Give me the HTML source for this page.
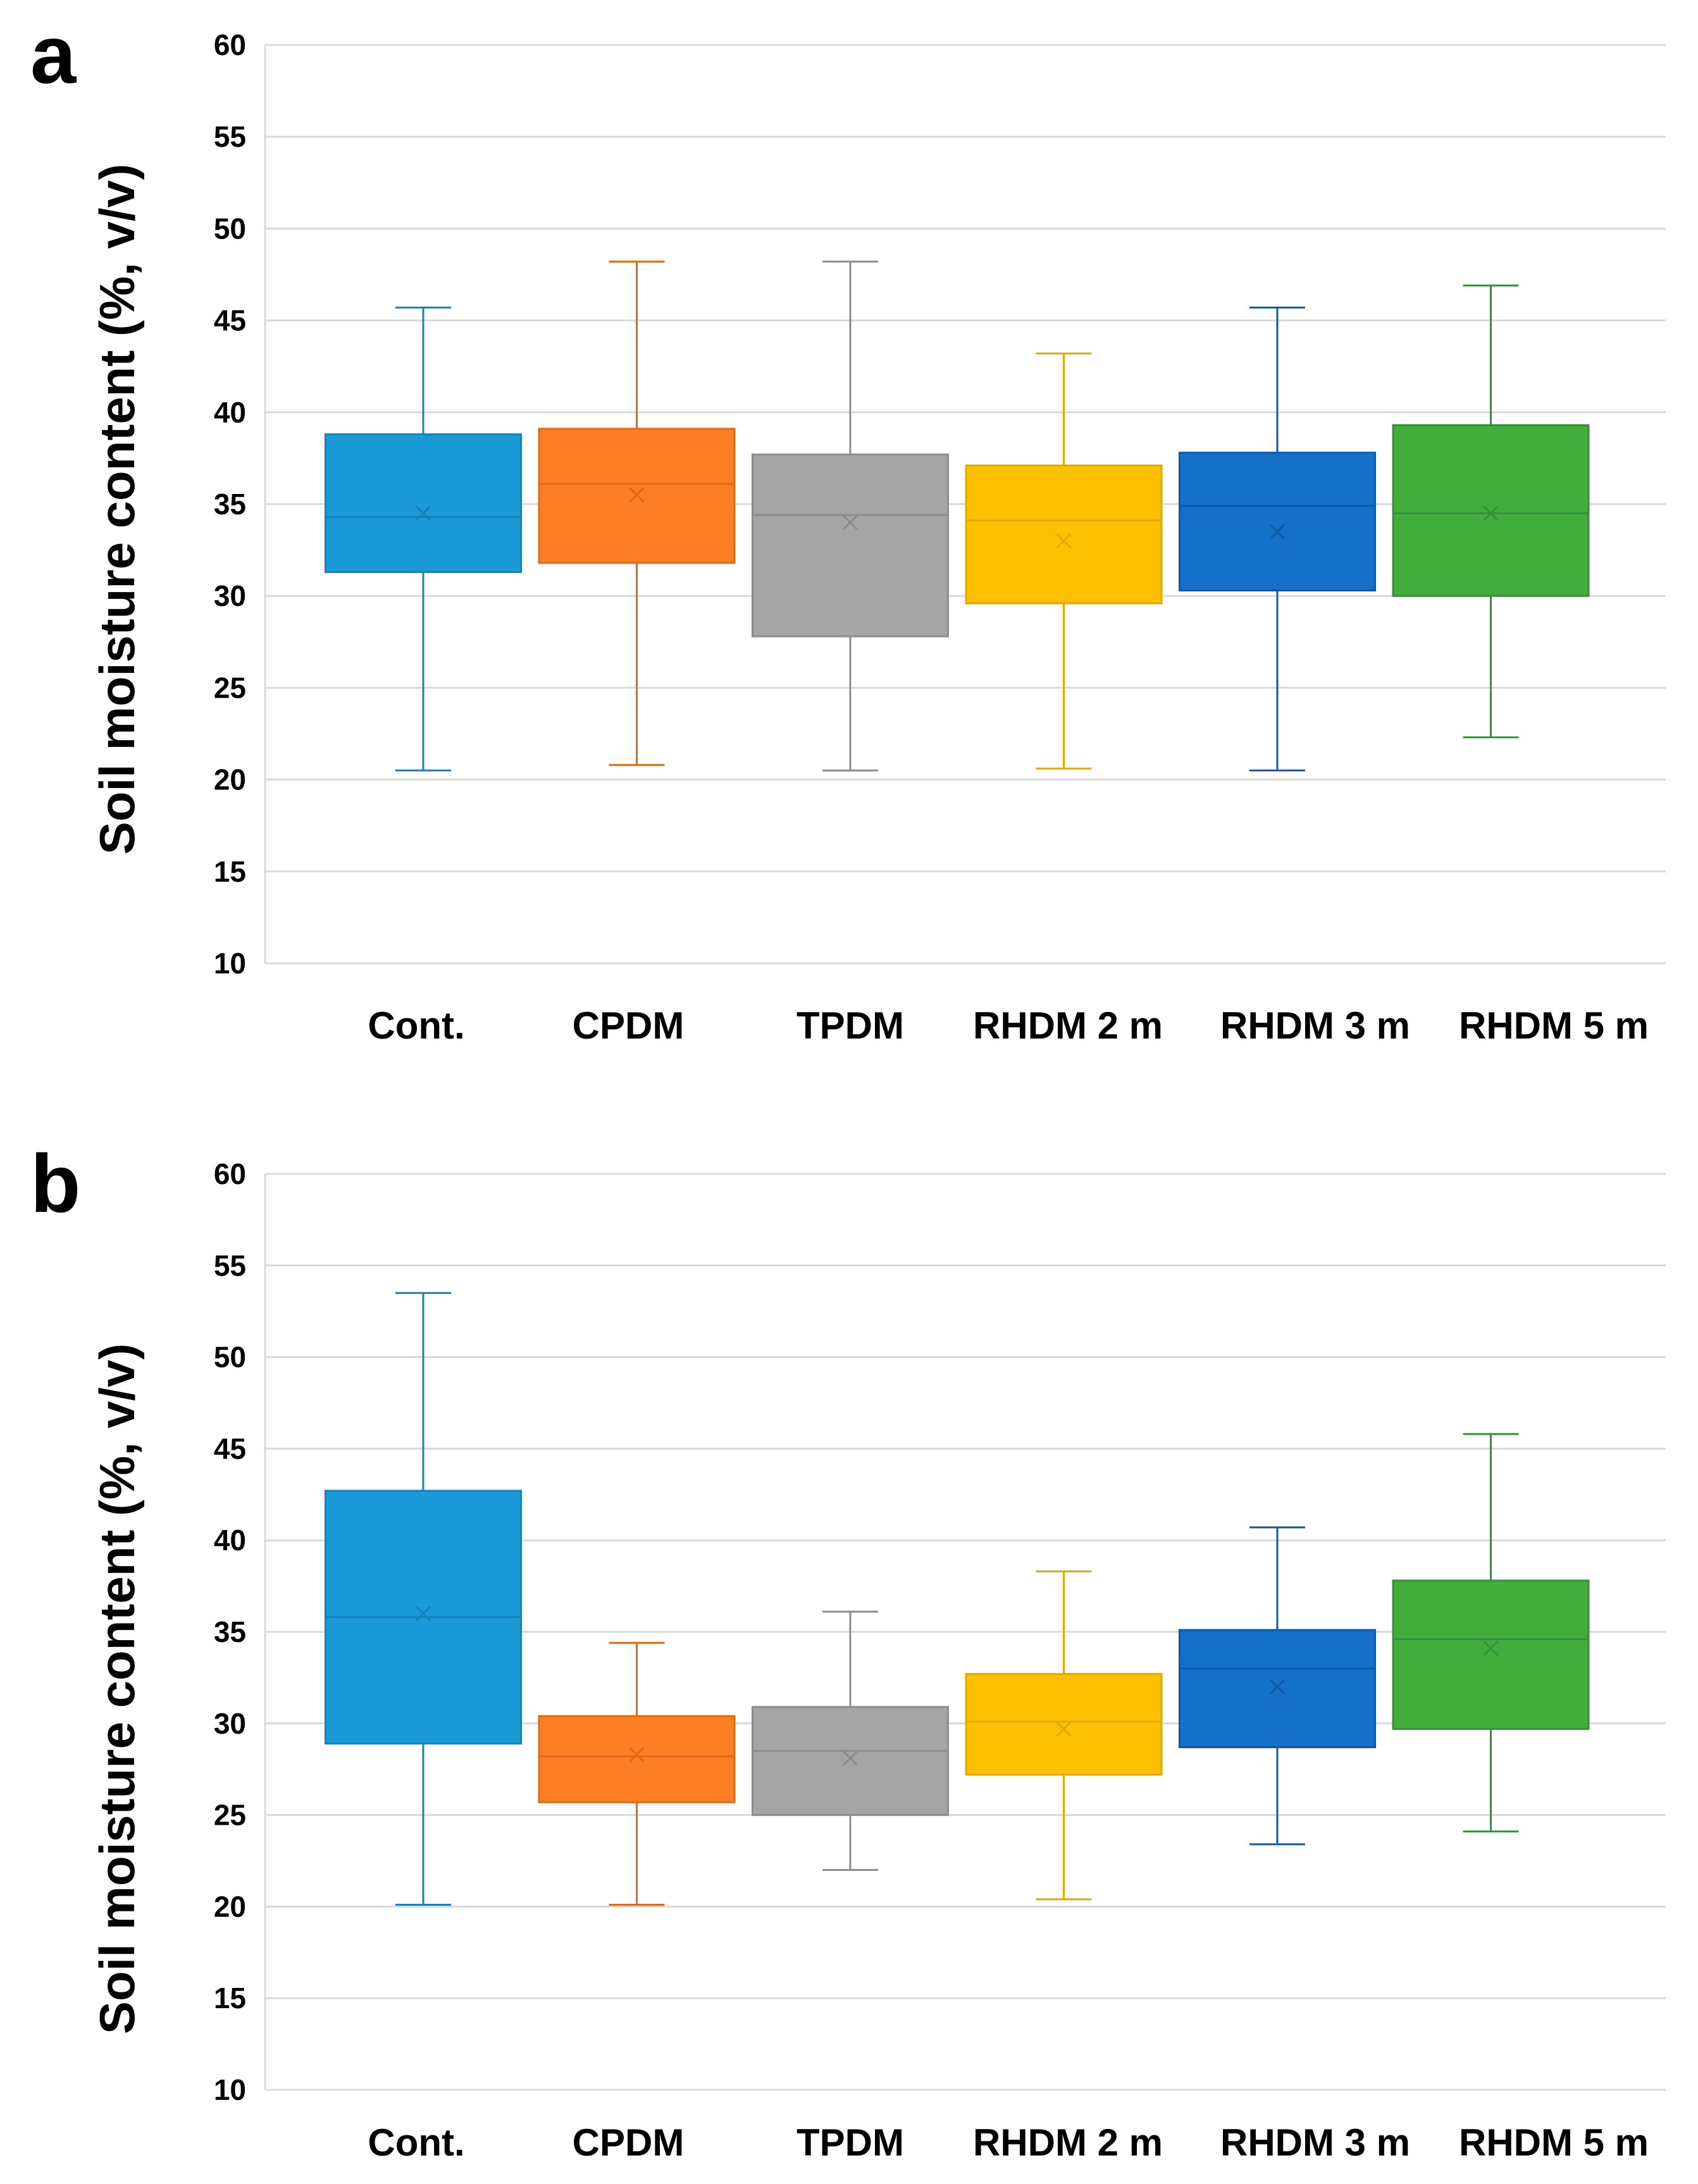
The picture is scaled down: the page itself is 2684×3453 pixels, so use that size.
<!DOCTYPE html>
<html><head><meta charset="utf-8"><style>
html,body{margin:0;padding:0;background:#fff;}
svg{display:block;font-family:"Liberation Sans",Arial,sans-serif;}
</style></head><body>
<svg id="fig" width="2684" height="3453" viewBox="0 0 2684 3453" xmlns="http://www.w3.org/2000/svg"></svg>
<script>
const categories = ["Cont.","CPDM","TPDM","RHDM 2 m","RHDM 3 m","RHDM 5 m"];
const colors = ["#1a9bd7","#fd7e23","#a5a5a5","#ffc000","#1470c8","#43ad3c"];
const strokes = ["#1583bb","#e06a15","#8c8c8c","#e0a800","#0f5aa6","#36923a"];
const yTicks = [10,15,20,25,30,35,40,45,50,55,60];
const aMin = [20.5,20.8,20.5,20.6,20.5,22.3];
const aQ1 = [31.3,31.8,27.8,29.6,30.3,30.0];
const aMed = [34.3,36.1,34.4,34.1,34.9,34.5];
const aQ3 = [38.8,39.1,37.7,37.1,37.8,39.3];
const aMax = [45.7,48.2,48.2,43.2,45.7,46.9];
const aMean = [34.5,35.5,34.0,33.0,33.5,34.5];
const bMin = [20.1,20.1,22.0,20.4,23.4,24.1];
const bQ1 = [28.9,25.7,25.0,27.2,28.7,29.7];
const bMed = [35.8,28.2,28.5,30.1,33.0,34.6];
const bQ3 = [42.7,30.4,30.9,32.7,35.1,37.8];
const bMax = [53.5,34.4,36.1,38.3,40.7,45.8];
const bMean = [36.0,28.3,28.1,29.7,32.0,34.1];

const NS="http://www.w3.org/2000/svg";
const svg=document.getElementById('fig');
function el(tag,attrs,parent){const e=document.createElementNS(NS,tag);for(const k in attrs)e.setAttribute(k,attrs[k]);(parent||svg).appendChild(e);return e;}
const labelX=[658,993,1344,1688,2079,2456];

function panel(letter,top,bottom,labelY,titleY,mins,q1s,meds,q3s,maxs,means){
  const left=419,right=2633;
  const g=el('g',{});
  
  
  const y=v=>bottom-(v-10)*(bottom-top)/50;
  const xc=i=>669+i*337.5;
  yTicks.forEach(t=>{
    const l=el('line',{x1:left,x2:right,y1:y(t),y2:y(t),stroke:'#d9d9d9','stroke-width':3},g);
    
    
    const tx=el('text',{x:left-30,y:y(t)+16,'text-anchor':'end','font-size':46,'font-weight':'bold',fill:'#000'},g);
    tx.textContent=t;
    
    
  });
  const ax=el('line',{x1:left,x2:left,y1:top,y2:bottom,stroke:'#d9d9d9','stroke-width':3},g);
  
  
  const bw=309,cap=88;
  categories.forEach((c,i)=>{
    const x=xc(i);
    const bg=el('g',{},g);
    
    
    el('line',{x1:x,x2:x,y1:y(maxs[i]),y2:y(q3s[i]),stroke:strokes[i],'stroke-width':3},bg);
    el('line',{x1:x,x2:x,y1:y(q1s[i]),y2:y(mins[i]),stroke:strokes[i],'stroke-width':3},bg);
    el('line',{x1:x-cap/2,x2:x+cap/2,y1:y(maxs[i]),y2:y(maxs[i]),stroke:strokes[i],'stroke-width':3},bg);
    el('line',{x1:x-cap/2,x2:x+cap/2,y1:y(mins[i]),y2:y(mins[i]),stroke:strokes[i],'stroke-width':3},bg);
    el('rect',{x:x-bw/2,y:y(q3s[i]),width:bw,height:y(q1s[i])-y(q3s[i]),fill:colors[i],stroke:strokes[i],'stroke-width':3},bg);
    el('line',{x1:x-bw/2,x2:x+bw/2,y1:y(meds[i]),y2:y(meds[i]),stroke:strokes[i],'stroke-width':3},bg);
    const my=y(means[i]),s=11;
    el('path',{d:`M${x-s} ${my-s}L${x+s} ${my+s}M${x-s} ${my+s}L${x+s} ${my-s}`,stroke:strokes[i],'stroke-width':3,fill:'none'},bg);
    const lt=el('text',{x:labelX[i],y:labelY,'text-anchor':'middle','font-size':60,'font-weight':'bold',fill:'#000'},g);
    lt.textContent=c;
    
    
  });
  const tt=el('text',{x:0,y:0,'text-anchor':'middle','font-size':78,'font-weight':'bold',fill:'#000',transform:`translate(212,${titleY}) rotate(-90)`},g);
  tt.textContent='Soil moisture content (%, v/v)';
  
  
  const pl=el('text',{x:48,y:top+60,'font-size':130,'font-weight':'bold',fill:'#000'},g);
  pl.textContent=letter;
  
  
}
panel('a',71,1523,1642,805,aMin,aQ1,aMed,aQ3,aMax,aMean);
panel('b',1856,3304,3408,2670,bMin,bQ1,bMed,bQ3,bMax,bMean);
</script>
</body></html>
